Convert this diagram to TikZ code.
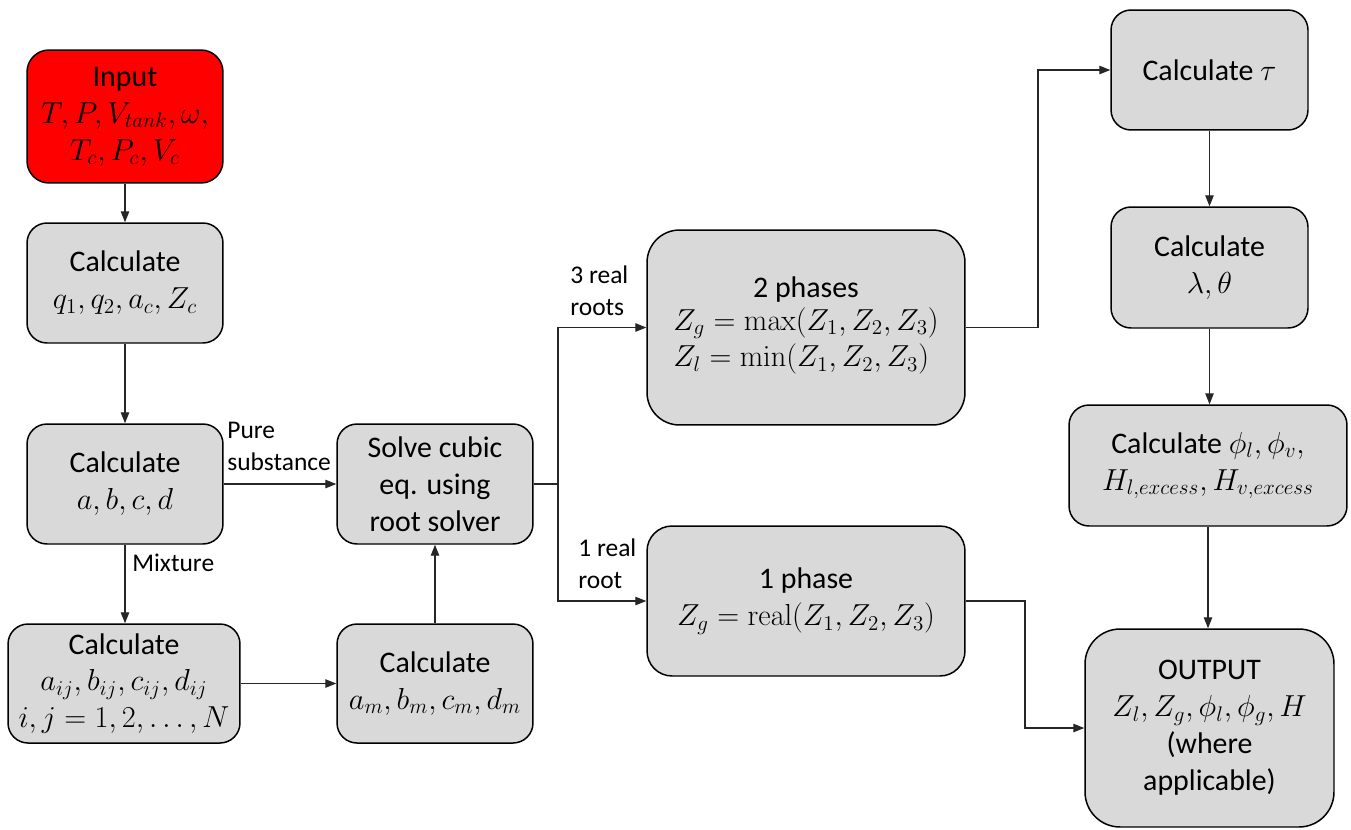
\documentclass[tikz,border=0pt]{standalone}
\usepackage[no-math]{fontspec}
\setmainfont{Carlito}
\usetikzlibrary{arrows.meta,calc}
\tikzset{
  box/.style={draw=black, line width=0.85pt, fill=boxgray, align=center, inner sep=2pt,
    font=\fontsize{17}{21}\selectfont},
  arr/.style={draw=black!85, line width=0.6pt, -{Triangle[length=0.22cm,width=0.17cm]}},
  ln/.style={draw=black!85, line width=0.6pt},
  lbl/.style={align=left, inner sep=0pt, font=\fontsize{14.5}{18}\selectfont},
}
\definecolor{boxgray}{HTML}{D9D9D9}
\definecolor{inred}{HTML}{FF0000}
\begin{document}
\begin{tikzpicture}[x=0.02cm,y=-0.02cm]
\useasboundingbox (0,0) rectangle (1351,829);
% nodes
\node[box, fill=inred, minimum width=3.92cm, minimum height=2.66cm, rounded corners=0.44cm] (in) at (125,116.5)
  {Input\\ $T, P, V_{tank}, \omega,$\\ $T_c, P_c, V_c$};
\node[box, minimum width=3.92cm, minimum height=2.4cm, rounded corners=0.4cm] (q) at (125,283)
  {Calculate\\ $q_1, q_2, a_c, Z_c$};
\node[box, minimum width=3.92cm, minimum height=2.4cm, rounded corners=0.4cm] (abcd) at (125,484)
  {Calculate\\ $a, b, c, d$};
\node[box, minimum width=4.64cm, minimum height=2.38cm, rounded corners=0.4cm] (aij) at (124,683.5)
  {Calculate\\ $a_{ij}, b_{ij}, c_{ij}, d_{ij}$\\ $i, j = 1, 2, \ldots, N$};
\node[box, minimum width=3.92cm, minimum height=2.38cm, rounded corners=0.4cm] (am) at (435,683.5)
  {Calculate\\ $a_m, b_m, c_m, d_m$};
\node[box, minimum width=3.92cm, minimum height=2.4cm, rounded corners=0.4cm] (solve) at (435,484)
  {Solve cubic\\ eq. using\\ root solver};
\node[box, minimum width=6.36cm, minimum height=3.9cm, rounded corners=0.65cm] (two) at (806,327.5)
  {2 phases\\ \begin{tabular}{@{}l@{}}$Z_g = \max(Z_1, Z_2, Z_3)$\\ $Z_l = \min(Z_1, Z_2, Z_3)$\end{tabular}};
\node[box, minimum width=6.36cm, minimum height=3.0cm, rounded corners=0.5cm] (one) at (806,601)
  {1 phase\\ $Z_g = \mathrm{real}(Z_1, Z_2, Z_3)$};
\node[box, minimum width=3.94cm, minimum height=2.4cm, rounded corners=0.4cm] (tau) at (1209.5,70)
  {Calculate $\tau$};
\node[box, minimum width=3.94cm, minimum height=2.42cm, rounded corners=0.4cm] (lam) at (1209.5,267.5)
  {Calculate\\ $\lambda, \theta$};
\node[box, minimum width=5.56cm, minimum height=2.42cm, rounded corners=0.4cm] (phi) at (1208,465.5)
  {Calculate $\phi_l, \phi_v,$\\ $H_{l,excess}, H_{v,excess}$};
\node[box, minimum width=4.98cm, minimum height=3.96cm, rounded corners=0.7cm] (out) at (1209.5,728)
  {OUTPUT\\ $Z_l, Z_g, \phi_l, \phi_g, H$\\ (where\\ applicable)};
% labels (anchor = baseline of last line)
\node[lbl, anchor=base west] (lpure) at (227,470) {Pure\\ substance};
\node[lbl, anchor=base west] (lmix) at (132,571) {Mixture};
\node[lbl, anchor=base west] (l3) at (570,315) {3 real\\ roots};
\node[lbl, anchor=base west] (l1) at (578,588) {1 real\\ root};
% junction coordinates
\coordinate (br) at (558,484);
\coordinate (j1) at (1038,0);
\coordinate (j2) at (1025,0);
% connectors
\draw[arr] (in.south) -- (q.north);
\draw[arr] (q.south) -- (abcd.north);
\draw[arr] (abcd.south) -- (abcd.south |- aij.north);
\draw[arr] (abcd.east) -- (solve.west);
\draw[arr] (aij.east) -- (aij.east -| am.west);
\draw[arr] (am.north) -- (solve.south);
\draw[ln] (solve.east) -- (br);
\draw[arr] (br) |- (two.west);
\draw[arr] (br) |- (one.west);
\draw[arr] (two.east) -- (two.east -| j1) |- (tau.west);
\draw[arr] (tau.south) -- (lam.north);
\draw[arr] (lam.south) -- (lam.south |- phi.north);
\draw[arr] (phi.south) -- (phi.south |- out.north);
\draw[arr] (one.east) -- (one.east -| j2) |- (out.west);
\end{tikzpicture}
\end{document}
